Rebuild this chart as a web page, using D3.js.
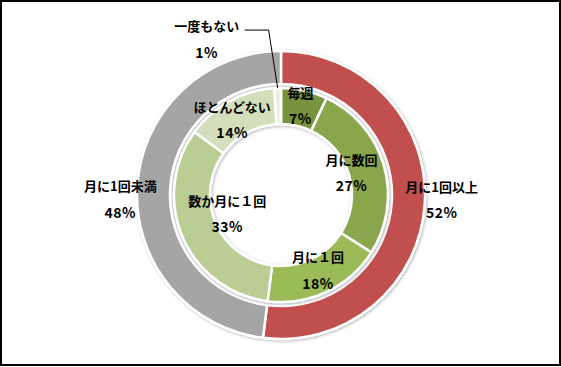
<!DOCTYPE html>
<html><head><meta charset="utf-8">
<script src="https://cdn.jsdelivr.net/npm/d3@7/dist/d3.min.js"></script>
<style>body{margin:0;background:#fff}svg{display:block}</style>
</head><body>
<svg id="c" width="561" height="367"></svg>
<script>
// ---- data ----
const outerCategories = ["月に1回以上", "月に1回未満"];
const outerValues = [52, 48];
const outerColors = ["#c0504d", "#a5a5a5"];

const innerCategories = ["毎週", "月に数回", "月に１回", "数か月に１回", "ほとんどない", "一度もない"];
const innerValues = [7, 27, 18, 33, 14, 1];
const innerColors = ["#77933c", "#8aa64e", "#9bbb59", "#b9cd94", "#d3dfbb", "#ebf1de"];

// ---- layout / style ----
const W = 561, H = 367, cx = 281, cy = 195;
const R = { outerOut: 144, outerIn: 111, innerOut: 107, innerIn: 71 };
const innerLabelR = 89, outerLabelR = 160;
const innerNudge = [[0,-3],[-15,2],[-1,-6],[28,-17],[-6,2],null];
const outerNudge = [[1,-6],[-1,14]];
const lineGap = 13;

const svg = d3.select("#c");
const defs = svg.append("defs");
const f = defs.append("filter").attr("id","sh").attr("x","-20%").attr("y","-20%").attr("width","140%").attr("height","140%");
f.append("feDropShadow").attr("dx",1).attr("dy",1).attr("stdDeviation",1.6)
  .attr("flood-color","#000").attr("flood-opacity",0.3);

svg.append("rect").attr("x",1).attr("y",1).attr("width",W-2).attr("height",H-3)
  .attr("fill","#fff").attr("stroke","#000").attr("stroke-width",2);

const g = svg.append("g").attr("transform",`translate(${cx},${cy})`);
const pie = d3.pie().sort(null).value(d=>d);

const outerArcs = pie(outerValues);
const innerArcs = pie(innerValues);

const arcOuter = d3.arc().innerRadius(R.outerIn).outerRadius(R.outerOut);
const arcInner = d3.arc().innerRadius(R.innerIn).outerRadius(R.innerOut);

g.append("g").attr("filter","url(#sh)").selectAll("path").data(outerArcs).join("path")
  .attr("d",arcOuter).attr("fill",(d,i)=>outerColors[i])
  .attr("stroke","#fff").attr("stroke-width",2.5).attr("stroke-linejoin","round");

g.append("g").attr("filter","url(#sh)").selectAll("path").data(innerArcs).join("path")
  .attr("d",arcInner).attr("fill",(d,i)=>innerColors[i])
  .attr("stroke","#fff").attr("stroke-width",2.5).attr("stroke-linejoin","round");

const font = "'Noto Sans CJK JP', 'Noto Sans', sans-serif";
function label(x, y, name, pct) {
  const t = g.append("g").attr("transform",`translate(${x},${y})`)
    .attr("font-family",font).attr("font-weight","bold")
    .attr("fill","#000").attr("text-anchor","middle");
  t.append("text").attr("y",-lineGap).attr("font-size",13).attr("dominant-baseline","central").text(name);
  t.append("text").attr("y",lineGap).attr("font-size",14).attr("letter-spacing",0.5)
    .attr("dominant-baseline","central").text(pct + "%");
  return t;
}

const lblArcIn = d3.arc().innerRadius(innerLabelR).outerRadius(innerLabelR);
const lblArcOut = d3.arc().innerRadius(outerLabelR).outerRadius(outerLabelR);

outerArcs.forEach((a,i)=>{
  const [x,y] = lblArcOut.centroid(a);
  label(x+outerNudge[i][0], y+outerNudge[i][1], outerCategories[i], outerValues[i]);
});
innerArcs.forEach((a,i)=>{
  if (!innerNudge[i]) return;
  const [x,y] = lblArcIn.centroid(a);
  label(x+innerNudge[i][0], y+innerNudge[i][1], innerCategories[i], innerValues[i]);
});

// leader-line label for the tiny slice
{
  const i = innerArcs.length - 1, a = innerArcs[i];
  const mid = (a.startAngle + a.endAngle) / 2;
  const ex = R.innerOut * Math.sin(mid), ey = -R.innerOut * Math.cos(mid);
  const elbow = [ex - 9, ey - 58];
  const start = [elbow[0] - 24, elbow[1]];
  g.append("path").attr("d", d3.line()([[ex,ey], elbow, start]))
    .attr("fill","none").attr("stroke","#000").attr("stroke-width",1);
  label(start[0] - 38, start[1] + 8.5, innerCategories[i], innerValues[i]);
}
</script>
</body></html>
